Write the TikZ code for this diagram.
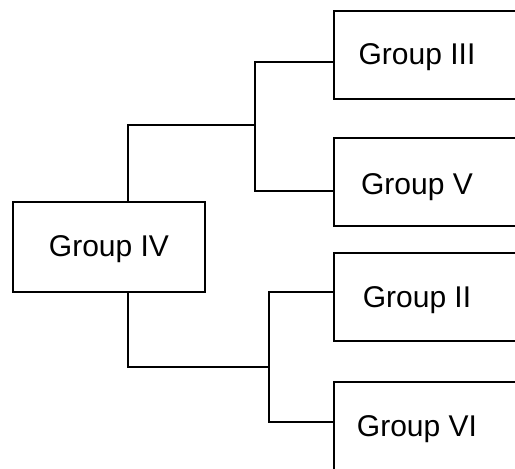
\documentclass[tikz,border=0pt]{standalone}
\usepackage{fontspec}
\setmainfont{Liberation Sans}
\begin{document}
\begin{tikzpicture}[x=.5pt,y=-.5pt, line width=1pt,
  grp/.style={draw, rectangle, minimum height=44pt, inner sep=0pt},
  lbl/.style={font=\fontsize{15}{18}\selectfont, inner sep=0pt, anchor=base}]
\path[use as bounding box, clip] (0,0) rectangle (515,468);
% root box on the left
\node[grp, minimum width=96pt, minimum height=45pt] (g4) at (109,247) {};
\node[lbl] (t4) at (109,256) {Group IV};
% right column, the boxes run off the edge
\foreach \n/\y/\ty/\txt in {g3/55/64/III, g5/182/194/V, g2/297/307/II, g6/426/436/VI} {
  \node[grp, minimum width=100pt, anchor=west] (\n) at (333,\y) {};
  \node[lbl] (t\n) at (417,\ty) {Group \txt};
}
% branch points
\coordinate (ta) at (128,125);
\coordinate (tb) at (128,367);
\coordinate (ja) at (255,125);
\coordinate (jb) at (269,367);
\draw (ta |- g4.north) -- (ta) -- (ja);
\draw ([yshift=-3.5pt]g3.west) -| (ja) |- ([yshift=-4.5pt]g5.west);
\draw (tb |- g4.south) -- (tb) -- (jb);
\draw ([yshift=2.5pt]g2.west) -| (jb) |- ([yshift=2pt]g6.west);
\end{tikzpicture}
\end{document}
